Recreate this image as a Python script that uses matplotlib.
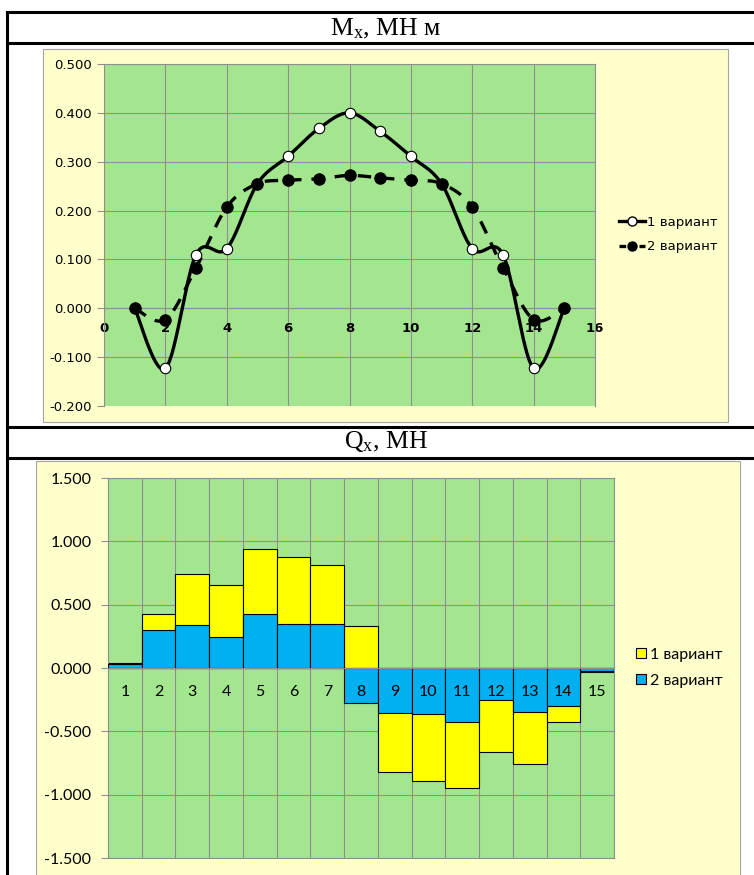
import matplotlib
matplotlib.use("Agg")
import matplotlib.pyplot as plt
import matplotlib.patches as patches
from matplotlib.lines import Line2D
import numpy as np

plt.rcParams['mathtext.fontset'] = 'custom'
plt.rcParams['mathtext.rm'] = 'Liberation Serif'
plt.rcParams['mathtext.it'] = 'Liberation Serif:italic'

W, H = 754, 875

# --- data ---
mx_x = list(range(1, 16))
mx_v1 = [0.000, -0.123, 0.110, 0.122, 0.255, 0.311, 0.368, 0.400,
         0.362, 0.311, 0.255, 0.122, 0.110, -0.123, 0.000]
mx_v2 = [0.000, -0.023, 0.083, 0.207, 0.255, 0.262, 0.265, 0.272,
         0.267, 0.262, 0.255, 0.207, 0.083, -0.023, 0.000]

qx_cats = [str(i) for i in range(1, 16)]
qx_v1 = [0.040, 0.427, 0.746, 0.653, 0.943, 0.879, 0.816, 0.335,
         -0.821, -0.889, -0.945, -0.660, -0.755, -0.429, -0.033]
qx_v2 = [0.030, 0.303, 0.342, 0.248, 0.429, 0.347, 0.347, -0.274,
         -0.353, -0.361, -0.424, -0.250, -0.345, -0.303, -0.022]

series_names = ['1 вариант', '2 вариант']

GREEN = '#a3e68f'
YELLOW_BG = '#ffffcc'
GRID = '#8f8f8f'


def rect(x, y, w, h):
    # pixel box (top-left origin) -> figure fraction
    return [x / W, 1 - (y + h) / H, w / W, h / H]


def smooth(x, y, n=24):
    # Excel-like smoothed line (Catmull-Rom through the points)
    p = np.column_stack([x, y]).astype(float)
    p = np.vstack([p[0], p, p[-1]])
    out = []
    t = np.linspace(0, 1, n)[:, None]
    for i in range(1, len(p) - 2):
        p0, p1, p2, p3 = p[i - 1], p[i], p[i + 1], p[i + 2]
        c1 = p1 + (p2 - p0) / 6
        c2 = p2 - (p3 - p1) / 6
        seg = ((1 - t) ** 3) * p1 + 3 * ((1 - t) ** 2) * t * c1 + 3 * (1 - t) * t ** 2 * c2 + t ** 3 * p2
        out.append(seg if i == 1 else seg[1:])
    out = np.vstack(out)
    return out[:, 0], out[:, 1]


fig = plt.figure(figsize=(W / 100, H / 100), dpi=100)

# table frame
for yy in [12, 43, 427, 458]:
    fig.add_artist(Line2D([7 / W, 1], [1 - yy / H, 1 - yy / H], color='black', lw=2.2))
fig.add_artist(Line2D([7 / W, 7 / W], [0, 1 - 12 / H], color='black', lw=2.2))

fig.text(386 / W, 1 - 29 / H, 'M$_\\mathrm{x}$, МН м', ha='center', va='center',
         fontsize=18.5, family='Liberation Serif')
fig.text(386 / W, 1 - 442 / H, 'Q$_\\mathrm{x}$, МН', ha='center', va='center',
         fontsize=18.5, family='Liberation Serif')

# chart backgrounds
fig.add_artist(patches.Rectangle((43 / W, 1 - 422 / H), (728 - 43) / W, (422 - 49) / H,
                                 transform=fig.transFigure, facecolor=YELLOW_BG,
                                 edgecolor='#a6a6a6', lw=0.8, zorder=-1))
fig.add_artist(patches.Rectangle((36 / W, -0.01), (740 - 36) / W, 1 - 461 / H + 0.01,
                                 transform=fig.transFigure, facecolor=YELLOW_BG,
                                 edgecolor='#a6a6a6', lw=0.8, zorder=-1))

# ---------- Mx chart ----------
ax1 = fig.add_axes(rect(104, 64, 491, 342))
ax1.set_facecolor(GREEN)
ax1.set_xlim(0, 16)
ax1.set_ylim(-0.2, 0.5)
ax1.set_xticks(np.arange(0, 17, 2))
ax1.set_yticks(np.arange(-0.2, 0.51, 0.1))
ax1.yaxis.set_major_formatter(matplotlib.ticker.FormatStrFormatter('%.3f'))
ax1.grid(True, color=GRID, lw=0.8)
for s in ax1.spines.values():
    s.set_color(GRID)
    s.set_linewidth(0.8)
ax1.spines['bottom'].set_position(('data', 0))
ax1.tick_params(axis='y', length=5, width=0.8, color=GRID, pad=4, labelsize=9.5)
ax1.tick_params(axis='x', length=0, pad=10, labelsize=9.5)
for lab in ax1.get_xticklabels():
    lab.set_family(['Liberation Sans Narrow', 'DejaVu Sans'])
    lab.set_fontweight('bold')

sx, sy = smooth(mx_x, mx_v1)
ax1.plot(sx, sy, color='black', lw=2.4, solid_capstyle='round', zorder=3)
ax1.plot(mx_x, mx_v1, ls='none', marker='o', ms=7.5, mfc='white', mec='black', mew=0.8, zorder=4)
sx, sy = smooth(mx_x, mx_v2)
ax1.plot(sx, sy, color='black', lw=2.4, ls=(0, (4, 3)), zorder=3)
ax1.plot(mx_x, mx_v2, ls='none', marker='o', ms=8, mfc='black', mec='black', zorder=5)

h1 = Line2D([], [], color='black', lw=2.4, marker='o', ms=6.5, mfc='white', mec='black')
h2 = Line2D([], [], color='black', lw=2.4, ls=(0, (2, 1)), marker='o', ms=6.5, mfc='black', mec='black')
fig.legend([h1, h2], series_names, loc='center left',
           bbox_to_anchor=(619 / W, 1 - 234.5 / H), frameon=False, fontsize=9.5,
           handlelength=2.0, handletextpad=0.1, labelspacing=0.9, borderpad=0,
           borderaxespad=0)

# ---------- Qx chart ----------
ax2 = fig.add_axes(rect(108, 478, 506, 380))
ax2.set_facecolor(GREEN)
ax2.set_axisbelow(True)
xpos = np.arange(1, len(qx_cats) + 1)
ax2.set_xlim(0.5, len(qx_cats) + 0.5)
ax2.set_ylim(-1.5, 1.5)
ax2.set_yticks(np.arange(-1.5, 1.51, 0.5))
ax2.yaxis.set_major_formatter(matplotlib.ticker.FormatStrFormatter('%.3f'))
ax2.set_xticks(np.arange(0.5, len(qx_cats) + 1, 1))
ax2.set_xticklabels([])
ax2.grid(True, color=GRID, lw=0.8)
for s in ax2.spines.values():
    s.set_color(GRID)
    s.set_linewidth(0.8)
ax2.tick_params(axis='x', length=0)
ax2.tick_params(axis='y', length=5, width=0.8, color=GRID, pad=7, labelsize=11.5)
for lab in ax2.get_yticklabels():
    lab.set_family('Lato')

ax2.bar(xpos, qx_v1, width=1.0, color='#ffff00', edgecolor='black', lw=0.8, zorder=2,
        label=series_names[0])
ax2.bar(xpos, qx_v2, width=1.0, color='#00b0f0', edgecolor='black', lw=0.8, zorder=3,
        label=series_names[1])
ax2.axhline(0, color=GRID, lw=0.8, zorder=4)
for xp, c in zip(xpos, qx_cats):
    ax2.annotate(c, (xp, 0), xytext=(0, -17), textcoords='offset points', ha='center',
                 va='center', fontsize=11.5, family='Lato', zorder=6)

fig.legend(handles=ax2.get_legend_handles_labels()[0], labels=series_names,
           loc='center left', bbox_to_anchor=(636 / W, 1 - 668 / H), frameon=False,
           prop={'family': 'Lato', 'size': 11.5},
           handlelength=0.6, handleheight=0.6, handletextpad=0.3,
           labelspacing=0.75, borderpad=0, borderaxespad=0)

fig.savefig('out.png', dpi=100)
